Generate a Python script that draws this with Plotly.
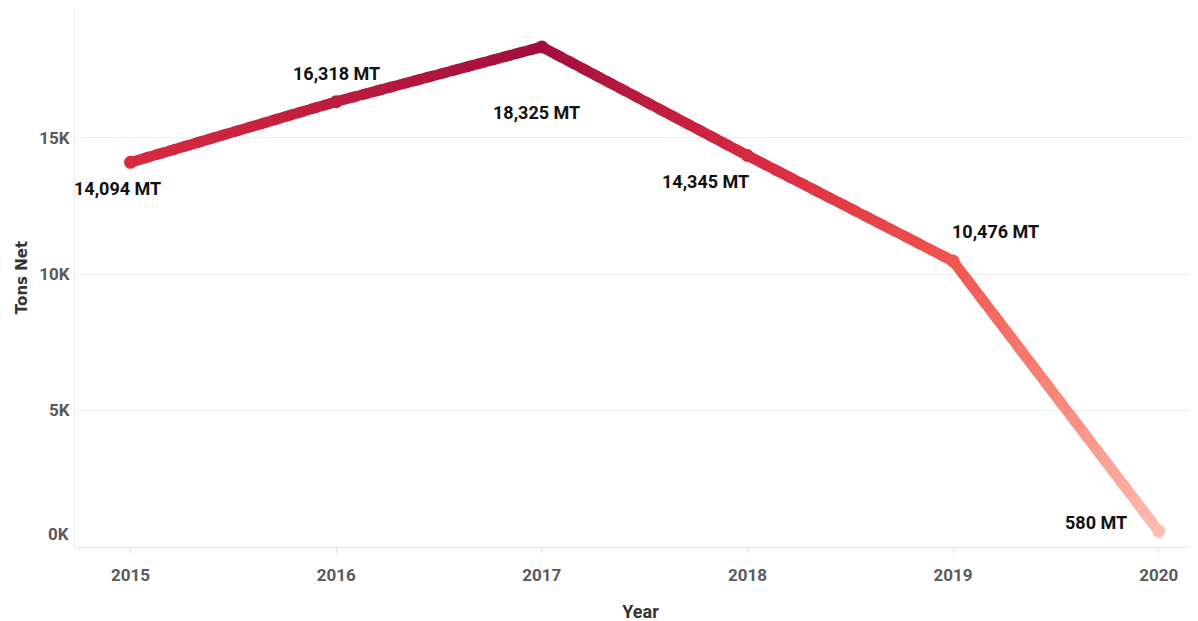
import plotly.graph_objects as go
from plotly.colors import sample_colorscale

years = [2015, 2016, 2017, 2018, 2019, 2020]
tons = [14094, 16318, 18325, 14345, 10476, 580]
labels = ["14,094 MT", "16,318 MT", "18,325 MT", "14,345 MT", "10,476 MT", "580 MT"]
ytick_vals = [0, 5000, 10000, 15000]
ytick_text = ["0K", "5K", "10K", "15K"]

# label pixel offsets (layout only)
label_dx = [-13, 0, -5, -42, 42, -63]
label_dy = [-26, 28, -66, -26, 30, 9]

cscale = [[0.0, "#fdc3b6"], [0.3, "#f8887a"], [0.57, "#ee5650"], [0.77, "#d92a40"], [1.0, "#a20f3c"]]
vmin, vmax = 0, max(tons)

def col(v):
    return sample_colorscale(cscale, [(v - vmin) / (vmax - vmin)])[0]

fig = go.Figure()
N = 16
for i in range(len(years) - 1):
    x0, x1 = years[i], years[i + 1]
    y0, y1 = tons[i], tons[i + 1]
    for k in range(N):
        t0, t1 = k / N, min(1.0, (k + 1.6) / N)
        xa, xb = x0 + (x1 - x0) * t0, x0 + (x1 - x0) * t1
        ya, yb = y0 + (y1 - y0) * t0, y0 + (y1 - y0) * t1
        yc = y0 + (y1 - y0) * (k + 0.5) / N
        fig.add_trace(go.Scatter(
            x=[xa, xb], y=[ya, yb], mode="lines",
            line=dict(color=col(yc), width=10.5),
            showlegend=False, hoverinfo="skip"))

fig.add_trace(go.Scatter(
    x=years, y=tons, mode="markers",
    marker=dict(size=13, color=[col(v) for v in tons]),
    showlegend=False, hovertemplate="%{x}: %{y:,} MT<extra></extra>"))

font_lab = "Roboto, Liberation Sans, sans-serif"

for x, y, lab, dx, dy in zip(years, tons, labels, label_dx, label_dy):
    fig.add_annotation(x=x, y=y, text=lab, showarrow=False,
                       xshift=dx, yshift=dy,
                       font=dict(family=font_lab, size=18, color="#111111", weight="bold"))

fig.add_annotation(x=0, xref="paper", y=0, yref="y", text="0K", showarrow=False,
                   xanchor="right", xshift=-4, yshift=13,
                   font=dict(family=font_lab, size=17, color="#5a5a5a", weight="bold"))

fig.update_layout(
    width=1198, height=621,
    margin=dict(l=67, r=0, t=0, b=82),
    plot_bgcolor="white", paper_bgcolor="white",
    xaxis=dict(
        range=[2014.73, 2020.23], automargin=False,
        tickvals=years, ticktext=[str(y) for y in years],
        tickfont=dict(family=font_lab, size=17, color="#5a5a5a", weight="bold"),
        showgrid=False, zeroline=False,
        showline=True, linecolor="#e6e6e6", linewidth=1,
        ticks="outside", ticklen=5, tickcolor="#e0e0e0",
        ticklabelstandoff=8,
        minor=dict(dtick=1/12, tick0=2015, ticks="outside", ticklen=3, tickcolor="#ececec"),
        title=dict(text="Year", font=dict(family=font_lab, size=18, color="#333333", weight="bold"), standoff=20),
    ),
    yaxis=dict(
        range=[0, 19750], automargin=False,
        tickvals=ytick_vals, ticktext=["", "5K", "10K", "15K"],
        tickfont=dict(family=font_lab, size=17, color="#5a5a5a", weight="bold"),
        showgrid=True, gridcolor="#eeeeee", gridwidth=1,
        zeroline=False,
        showline=True, linecolor="#eeeeee", linewidth=1,
        ticks="", ticklabelstandoff=1,
        title=dict(text="Tons Net", font=dict(family="DejaVu Sans", size=15, color="#333333", weight="bold"), standoff=8),
    ),
)

fig.write_html("out.html")
